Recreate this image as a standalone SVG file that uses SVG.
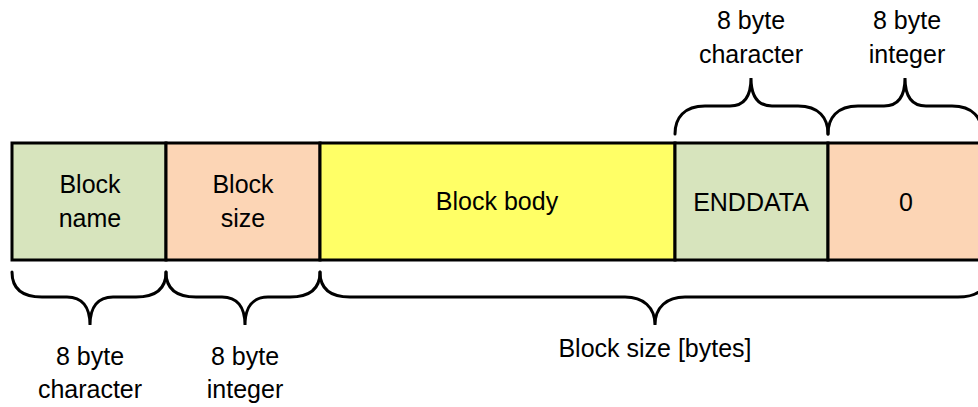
<svg xmlns="http://www.w3.org/2000/svg" width="978" height="407" viewBox="0 0 978 407">
<style>
.box{stroke:#000;stroke-width:3}
.g{fill:#D7E4BD}.p{fill:#FCD5B5}.y{fill:#FFFF66}
.t{font-family:"Liberation Sans",Arial,sans-serif;font-size:25px;fill:#000;text-anchor:middle}
.br{fill:none;stroke:#000;stroke-width:3;stroke-linecap:round}
</style>
<rect width="978" height="407" fill="#fff"/>
<g id="block-name"><rect class="box g" x="12" y="143" width="154" height="117"/><text class="t" x="90" y="193">Block</text><text class="t" x="90" y="227">name</text></g>
<g id="block-size"><rect class="box p" x="166" y="143" width="154" height="117"/><text class="t" x="243" y="193">Block</text><text class="t" x="243" y="227">size</text></g>
<g id="block-body"><rect class="box y" x="320" y="143" width="355" height="117"/><text class="t" x="497" y="210">Block body</text></g>
<g id="enddata"><rect class="box g" x="675" y="143" width="153" height="117"/><text class="t" x="751" y="211">ENDDATA</text></g>
<g id="zero"><rect class="box p" x="828" y="143" width="155" height="117"/><text class="t" x="906" y="211">0</text></g>
<g id="connectors">
<path class="br" d="M675 134 C675 118 684 106 705 106 L730 106 C745 106 751 96 751 78 C751 96 757 106 772 106 L798 106 C819 106 828 118 828 134"/>
<path class="br" d="M828 134 C828 118 837 106 858 106 L884 106 C899 106 905 96 905 78 C905 96 911 106 926 106 L952 106 C973 106 982 118 982 134"/>
<path class="br" d="M12 272 C12 288 21 297 42 297 L67 297 C82 297 90 307 90 325 C90 307 98 297 113 297 L136 297 C157 297 166 288 166 272"/>
<path class="br" d="M166 272 C166 288 175 297 196 297 L222 297 C237 297 245 307 245 325 C245 307 253 297 268 297 L290 297 C311 297 320 288 320 272"/>
<path class="br" d="M320 272 C320 288 329 297 350 297 L625 297 C643 297 655 307 655 325 C655 307 667 297 685 297 L958 297 C979 297 988 288 988 272"/>
</g>
<text class="t" x="751" y="29">8 byte</text><text class="t" x="751" y="63">character</text>
<text class="t" x="907" y="29">8 byte</text><text class="t" x="907" y="63">integer</text>
<text class="t" x="90" y="365">8 byte</text><text class="t" x="90" y="398">character</text>
<text class="t" x="245" y="365">8 byte</text><text class="t" x="245" y="398">integer</text>
<text class="t" x="655" y="357">Block size [bytes]</text>
</svg>
